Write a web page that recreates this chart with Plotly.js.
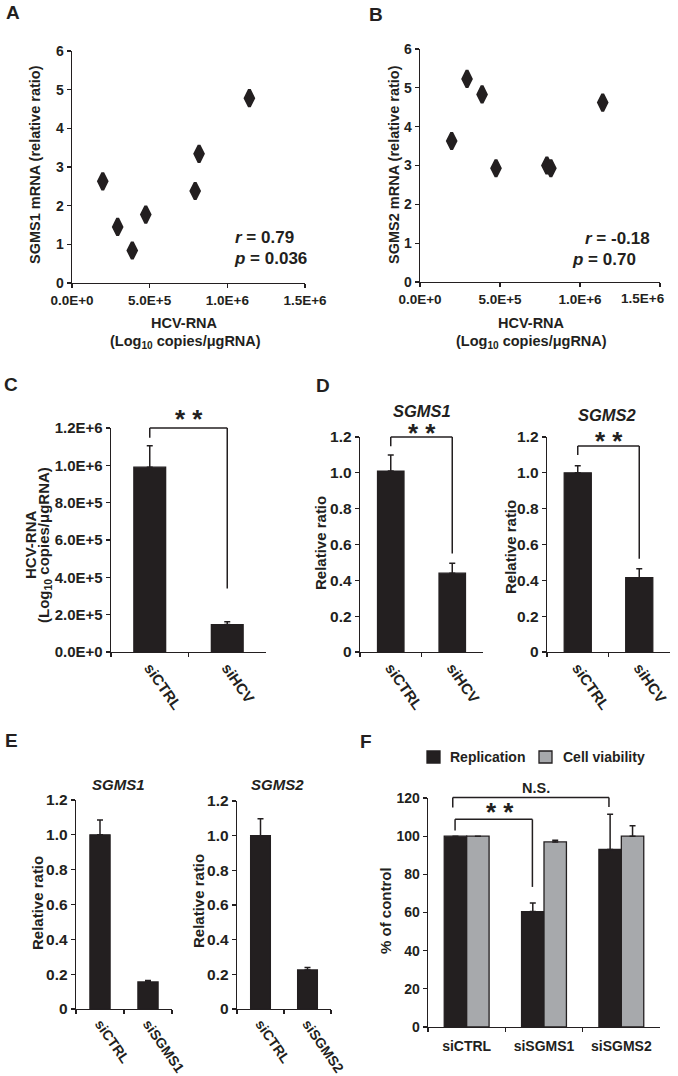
<!DOCTYPE html>
<html>
<head>
<meta charset="utf-8">
<script src="https://cdn.plot.ly/plotly-3.0.1.min.js"></script>
<style>
  html, body { margin: 0; padding: 0; background: #ffffff; }
  #chart { width: 678px; height: 1076px; }
</style>
</head>
<body>
<div id="chart"></div>
<script>
// ---- data ----
// A / B: correlation of HCV-RNA with SGMS mRNA
const hcvRna = [1.98e5, 2.94e5, 3.88e5, 4.75e5, 7.93e5, 8.18e5, 1.142e6];
const sgms1Mrna = [2.63, 1.45, 0.84, 1.77, 2.38, 3.34, 4.78];
const sgms2Mrna = [3.63, 5.23, 4.83, 2.93, 3.0, 2.93, 4.62];
const scatterTicks = [0, 5e5, 1e6, 1.5e6];
const scatterTickText = ['0.0E+0', '5.0E+5', '1.0E+6', '1.5E+6'];

// C: HCV-RNA after siHCV
const catsHcv = ['siCTRL', 'siHCV'];
const hcvKnock = [0.99e6, 1.47e5];
const hcvKnockErr = [0.115e6, 0.015e6];
const hcvTicks = [0, 2e5, 4e5, 6e5, 8e5, 1e6, 1.2e6];
const hcvTickText = ['0.0E+0', '2.0E+5', '4.0E+5', '6.0E+5', '8.0E+5', '1.0E+6', '1.2E+6'];

// D: SGMS1 / SGMS2 after siHCV
const dSgms1 = [1.01, 0.44];
const dSgms1Err = [0.09, 0.055];
const dSgms2 = [1.0, 0.415];
const dSgms2Err = [0.04, 0.05];

// E: knockdown efficiency
const catsE1 = ['siCTRL', 'siSGMS1'];
const catsE2 = ['siCTRL', 'siSGMS2'];
const eSgms1 = [1.0, 0.155];
const eSgms1Err = [0.085, 0.008];
const eSgms2 = [1.0, 0.225];
const eSgms2Err = [0.097, 0.015];

const ratioTicks = [0, 0.2, 0.4, 0.6, 0.8, 1.0, 1.2];
const ratioTickText = ['0', '0.2', '0.4', '0.6', '0.8', '1.0', '1.2'];

// F: replication and viability
const catsF = ['siCTRL', 'siSGMS1', 'siSGMS2'];
const replication = [100, 60.5, 93];
const replicationErr = [0, 4.5, 18.5];
const viability = [100, 97, 100];
const viabilityErr = [0, 0.9, 5.5];

// significance brackets: [axis, xLeft, xRight, top, leftEnd, rightEnd]
const brackets = [
  ['3', 0, 1, 1.2e6, 1.148e6, 0.34e6],
  ['4', 0, 1, 1.2, 1.148, 0.55],
  ['5', 0, 1, 1.15, 1.10, 0.52],
  ['8', -0.15, 0.85, 108.8, 103, 73.4],
  ['8', -0.18, 1.84, 120.2, 115, 115.3]
];
// [axis, x, y, text]
const marks = [
  ['3', 0.5, 1.286e6, '* *'],
  ['4', 0.5, 1.261, '* *'],
  ['5', 0.5, 1.218, '* *'],
  ['8', 0.43, 116.2, '* *'],
  ['8', 0.9, 125.4, 'N.S.']
];

// ---- layout helpers ----
const W = 678, H = 1076;
const ink = '#231f20';
const grey = '#a7a9ac';
const FONT = 'Liberation Sans, Arial, sans-serif';
const px = x => x / W;
const py = y => 1 - y / H;

// plot boxes in pixels [x0, x1, ytop, ybottom]
const boxes = {
  '':  [72, 305, 51, 283],
  '2': [420, 660, 49, 282],
  '3': [111, 266, 428, 652],
  '4': [360, 483, 437, 652],
  '5': [547, 670, 437, 652],
  '6': [76, 172, 800, 1009],
  '7': [237, 331, 801, 1009],
  '8': [428, 660, 798, 1027]
};

const ranges = {
  '': [0, 6], '2': [0, 6], '3': [0, 1.2e6], '4': [0, 1.2], '5': [0, 1.2],
  '6': [0, 1.2], '7': [0, 1.2], '8': [0, 120]
};

function yToPaper(id, v) {
  const b = boxes[id], r = ranges[id];
  const d0 = py(b[3]), d1 = py(b[2]);
  return d0 + (v - r[0]) / (r[1] - r[0]) * (d1 - d0);
}

function axisBase(size) {
  return {
    showline: true, linecolor: ink, linewidth: 1.3,
    ticks: 'outside', ticklen: 4, tickwidth: 1.3, tickcolor: ink,
    showgrid: false, zeroline: false, fixedrange: true,
    ticklabeloverflow: 'allow',
    tickfont: { family: FONT, size: size, color: ink, weight: 'bold' }
  };
}

const layout = {
  width: W, height: H,
  margin: { l: 0, r: 0, t: 0, b: 0 },
  paper_bgcolor: '#ffffff', plot_bgcolor: '#ffffff',
  showlegend: false,
  font: { family: FONT, color: ink },
  shapes: [], annotations: []
};

Object.keys(boxes).forEach(id => {
  const b = boxes[id];
  const xa = axisBase(14), ya = axisBase(14);
  xa.domain = [px(b[0]), px(b[1])];
  ya.domain = [py(b[3]), py(b[2])];
  xa.anchor = 'y' + id;
  ya.anchor = 'x' + id;
  ya.range = ranges[id];
  layout['xaxis' + id] = xa;
  layout['yaxis' + id] = ya;
});

// scatter axes
['', '2'].forEach(id => {
  Object.assign(layout['xaxis' + id], { range: [0, 1.5e6], tickvals: scatterTicks, ticktext: scatterTickText });
  layout['xaxis' + id].tickfont.size = 13.5;
  Object.assign(layout['yaxis' + id], { tickvals: [0, 1, 2, 3, 4, 5, 6] });
});
// last label of B is pulled in from the right edge in the original
layout.xaxis2.ticktext = scatterTickText.slice(0, 3).concat(['']);

// bar axes
['3', '4', '5', '6', '7', '8'].forEach(id => {
  Object.assign(layout['xaxis' + id], { type: 'category', tickson: 'boundaries' });
});
['3', '4', '5', '6', '7'].forEach(id => {
  Object.assign(layout['xaxis' + id], { range: [-0.5, 1.5], tickangle: 55 });
});
layout.xaxis8.range = [-0.5, 2.5];
layout.xaxis8.ticklabelstandoff = 6;
Object.assign(layout.yaxis3, { tickvals: hcvTicks, ticktext: hcvTickText });
layout.yaxis3.tickfont.size = 15;
layout.xaxis3.tickfont.size = 15;
['4', '5', '6', '7'].forEach(id => {
  Object.assign(layout['yaxis' + id], { tickvals: ratioTicks, ticktext: ratioTickText });
  layout['yaxis' + id].tickfont.size = 15.5;
  layout['xaxis' + id].tickfont.size = 15;
});
layout.xaxis6.tickfont.size = 14;
layout.xaxis7.tickfont.size = 14;
layout.yaxis8.dtick = 20;

// ---- traces ----
const diamond = { symbol: 'diamond-tall', size: 12, color: ink, line: { color: ink, width: 3 } };
function errUp(arr) {
  return { type: 'data', symmetric: false, array: arr, arrayminus: arr.map(() => 0),
           color: ink, thickness: 1.5, width: 3 };
}
function bars(id, cats, vals, err, width, color, offset) {
  const t = {
    type: 'bar', x: cats, y: vals, xaxis: 'x' + id, yaxis: 'y' + id,
    width: width, marker: { color: color, line: { color: ink, width: 1.3 } },
    error_y: errUp(err), hoverinfo: 'x+y'
  };
  if (offset !== undefined) t.offset = offset;
  return t;
}

const data = [
  { type: 'scatter', mode: 'markers', x: hcvRna, y: sgms1Mrna, xaxis: 'x', yaxis: 'y', marker: diamond, cliponaxis: false },
  { type: 'scatter', mode: 'markers', x: hcvRna, y: sgms2Mrna, xaxis: 'x2', yaxis: 'y2', marker: diamond, cliponaxis: false },
  bars('3', catsHcv, hcvKnock, hcvKnockErr, 0.41, ink),
  bars('4', catsHcv, dSgms1, dSgms1Err, 0.43, ink),
  bars('5', catsHcv, dSgms2, dSgms2Err, 0.44, ink),
  bars('6', catsE1, eSgms1, eSgms1Err, 0.42, ink),
  bars('7', catsE2, eSgms2, eSgms2Err, 0.42, ink),
  bars('8', catsF, replication, replicationErr, 0.29, ink, -0.29),
  bars('8', catsF, viability, viabilityErr, 0.29, grey, 0)
];

// ---- brackets and significance marks ----
brackets.forEach(([id, xl, xr, top, le, re]) => {
  const yt = yToPaper(id, top);
  const line = { color: ink, width: 1.5 };
  layout.shapes.push(
    { type: 'line', xref: 'x' + id, yref: 'paper', x0: xl, x1: xl, y0: yToPaper(id, le), y1: yt, line: line },
    { type: 'line', xref: 'x' + id, yref: 'paper', x0: xl, x1: xr, y0: yt, y1: yt, line: line },
    { type: 'line', xref: 'x' + id, yref: 'paper', x0: xr, x1: xr, y0: yt, y1: yToPaper(id, re), line: line }
  );
});
marks.forEach(([id, x, y, text]) => {
  const star = text !== 'N.S.';
  layout.annotations.push({
    xref: 'x' + id, yref: 'paper', x: x, y: yToPaper(id, y), text: text, showarrow: false,
    xanchor: 'center', yanchor: 'middle', yshift: star ? -7 : 0,
    font: { family: FONT, size: star ? 26 : 14.5, color: ink, weight: 'bold' }
  });
});

// ---- text labels (pixel positions) ----
function label(x, y, text, size, opts) {
  layout.annotations.push(Object.assign({
    xref: 'paper', yref: 'paper', x: px(x), y: py(y), text: text, showarrow: false,
    xanchor: 'center', yanchor: 'middle',
    font: { family: FONT, size: size, color: ink, weight: 'bold' }
  }, opts || {}));
}
const rot = { textangle: -90 };

// B's last tick label, tied to its tick value and nudged inside the page
layout.annotations.push({
  xref: 'x2', yref: 'paper', x: scatterTicks[3], y: py(299), xshift: -17,
  text: scatterTickText[3], showarrow: false, xanchor: 'center', yanchor: 'middle',
  font: { family: FONT, size: 13.5, color: ink, weight: 'bold' }
});

// panel letters
label(13, 12, 'A', 19);
label(376, 15, 'B', 19);
label(11, 384, 'C', 19);
label(323, 385, 'D', 19);
label(11, 740, 'E', 19);
label(366, 741, 'F', 19);

// A / B axis titles
label(35, 165, 'SGMS1 mRNA (relative ratio)', 14.5, rot);
label(394, 165, 'SGMS2 mRNA (relative ratio)', 14.5, rot);
label(184, 323, 'HCV-RNA', 14.5);
label(185, 342, '(Log<sub>10</sub> copies/μgRNA)', 14.5);
label(531, 323, 'HCV-RNA', 14.5);
label(531, 342, '(Log<sub>10</sub> copies/μgRNA)', 14.5);

// correlation stats
label(233, 237, '<i>r</i> = 0.79', 17, { xanchor: 'left' });
label(232, 258, '<i>p</i> = 0.036', 17, { xanchor: 'left' });
label(583, 239, '<i>r</i> = -0.18', 17, { xanchor: 'left' });
label(570, 259, '<i>p</i> = 0.70', 17, { xanchor: 'left' });

// C title
label(30, 545, 'HCV-RNA', 15, rot);
label(44, 545, '(Log<sub>10</sub> copies/μgRNA)', 15, rot);

// D / E / F titles
label(422, 411, '<i>SGMS1</i>', 16.5);
label(607, 415, '<i>SGMS2</i>', 16.5);
label(320, 543, 'Relative ratio', 15, rot);
label(510, 547, 'Relative ratio', 15, rot);
label(118, 784, '<i>SGMS1</i>', 15);
label(277, 784, '<i>SGMS2</i>', 15);
label(37, 903, 'Relative ratio', 15, rot);
label(198, 901, 'Relative ratio', 15, rot);
label(385, 910, '% of control', 15, rot);

// F legend
layout.shapes.push(
  { type: 'rect', xref: 'paper', yref: 'paper', x0: px(427), x1: px(440), y0: py(763), y1: py(751),
    fillcolor: ink, line: { color: ink, width: 1.3 } },
  { type: 'rect', xref: 'paper', yref: 'paper', x0: px(539), x1: px(552), y0: py(763), y1: py(751),
    fillcolor: grey, line: { color: ink, width: 1.3 } }
);
label(448, 757, 'Replication', 14, { xanchor: 'left' });
label(561, 757, 'Cell viability', 14, { xanchor: 'left' });

Plotly.newPlot('chart', data, layout, { displayModeBar: false, staticPlot: true });
</script>
</body>
</html>
